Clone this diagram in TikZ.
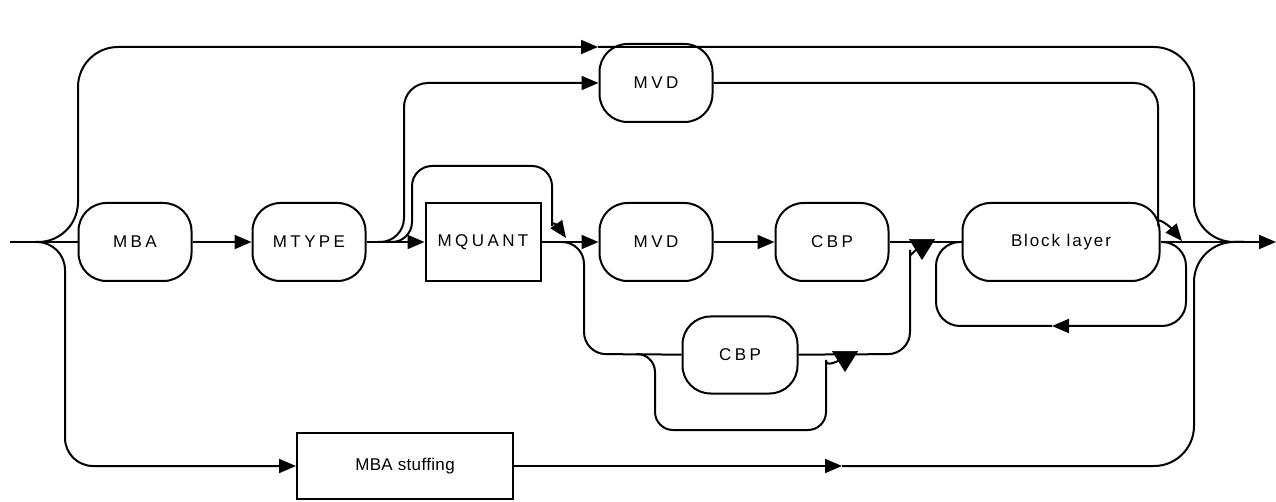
\documentclass[tikz,border=0pt]{standalone}
\usepackage{fontspec}
\usepackage{tikz}
\usetikzlibrary{arrows.meta,shapes.geometric}
\newfontfamily\railfont{Liberation Sans}
\tikzset{
  term/.style={draw, line width=2pt, rounded corners=28pt, minimum width=113pt, minimum height=78pt, inner sep=0pt, font=\railfont\fontsize{17}{20}\selectfont\addfontfeature{LetterSpace=20}},
  nonterm/.style={draw, line width=2pt, rectangle, minimum height=78pt, inner sep=0pt, font=\railfont\fontsize{17}{20}\selectfont\addfontfeature{LetterSpace=20}},
  wordy/.style={font=\railfont\fontsize{17}{20}\selectfont\addfontfeature{LetterSpace=#1}},
  rail/.style={draw, line width=2pt},
  arrow/.style={rail, -{Triangle[length=17pt,width=14pt]}},
  downtip/.style={isosceles triangle, isosceles triangle apex angle=64, shape border rotate=-90, draw, fill=black, line width=0.6pt, inner sep=0pt, minimum size=20pt, anchor=apex}
}
\begin{document}
\begin{tikzpicture}[x=1pt, y=-1pt]
  \useasboundingbox (0,0) rectangle (1276,502);

  \node[term] (mba) at (135,242) {MBA};
  \node[term] (mtype) at (309,242) {MTYPE};
  \node[nonterm, minimum width=115pt] (mquant) at (483,242) {MQUANT};
  \node[term] (mvdup) at (656,83) {MVD};
  \node[term] (mvd) at (656,242) {MVD};
  \node[term] (cbp) at (832,242) {CBP};
  \node[term, wordy=11, minimum width=197pt] (block) at (1061,242) {Block layer\vphantom{y}};
  \node[term, minimum width=115pt, minimum height=77pt] (cbpdown) at (740,355) {CBP};
  \node[nonterm, wordy=2, minimum width=216pt, minimum height=66pt] (stuff) at (405,466) {MBA stuffing};
  \node[downtip] (tipC) at (922,260) {};
  \node[downtip] (tipD) at (845,372) {};

  \coordinate (in) at (10,242);
  \coordinate (out) at (1276,242);
  \coordinate (fork) at (36,242);
  \coordinate (join) at (1244,242);
  \coordinate (topL) at (78,47);
  \coordinate (topM) at (598,47);
  \coordinate (topR) at (1194,47);
  \coordinate (botL) at (65,466);
  \coordinate (botM) at (842,466);
  \coordinate (botR) at (1194,466);
  \coordinate (forkA) at (378,242);
  \coordinate (laneA) at (404,83);
  \coordinate (laneA2) at (1158,83);
  \coordinate (joinA) at (1182,241);
  \coordinate (forkB) at (390,242);
  \coordinate (laneB) at (412,166);
  \coordinate (laneB2) at (552,166);
  \coordinate (joinB) at (566,238);
  \coordinate (forkC) at (562,242);
  \coordinate (laneC) at (584,354);
  \coordinate (laneC2) at (910,354);
  \coordinate (forkD) at (636,354);
  \coordinate (laneD) at (655,430);
  \coordinate (laneD2) at (826,430);
  \coordinate (forkE) at (1163,242);
  \coordinate (laneE) at (1186,326);
  \coordinate (loopM) at (1052,326);
  \coordinate (laneE2) at (936,326);

  % main line
  \draw[rail] (in) -- (mba);
  \draw[arrow] (mba) -- (mtype);
  \draw[arrow] (mtype) -- (mquant);
  \draw[arrow] (mquant) -- (mvd);
  \draw[arrow] (mvd) -- (cbp);
  \draw[rail] (cbp) -- (block);
  \draw[arrow] (block) -- (out);

  % skip everything
  \draw[arrow, rounded corners=40pt] (fork) -| (topL) -- (topM);
  \draw[rail, rounded corners=40pt] (topM) -- (topR) |- (join);

  % stuffing
  \draw[arrow, rounded corners=28pt] (fork) -| (botL) -- (stuff);
  \draw[arrow] (stuff) -- (botM);
  \draw[rail, rounded corners=40pt] (botM) -- (botR) |- (join);

  % MVD only
  \draw[arrow, rounded corners=24pt] (forkA) -| (laneA) -- (mvdup);
  \draw[arrow, rounded corners=24pt] (mvdup) -- (laneA2) -- ++(0,115) to[out=-90, in=130] (joinA);

  % skip MQUANT
  \draw[arrow, rounded corners=20pt] (forkB) -| (laneB) -- (laneB2) -- ++(0,40) to[out=-90, in=125] (joinB);

  % CBP only
  \draw[rail, rounded corners=22pt] (forkC) -| (laneC) -- (cbpdown);
  \draw[rail, rounded corners=22pt] (cbpdown) -- (laneC2) -- ++(0,-82) to[out=90, in=-160] (tipC.center);

  % skip CBP
  \draw[rail, rounded corners=18pt] (forkD) -| (laneD) -- (laneD2) -- ++(0,-52) to[out=90, in=-160] (tipD.center);

  % repeated blocks
  \draw[arrow, rounded corners=24pt] (forkE) -| (laneE) -- (loopM);
  \draw[rail, rounded corners=24pt] (loopM) -- (laneE2) |- (block.west);
\end{tikzpicture}
\end{document}
